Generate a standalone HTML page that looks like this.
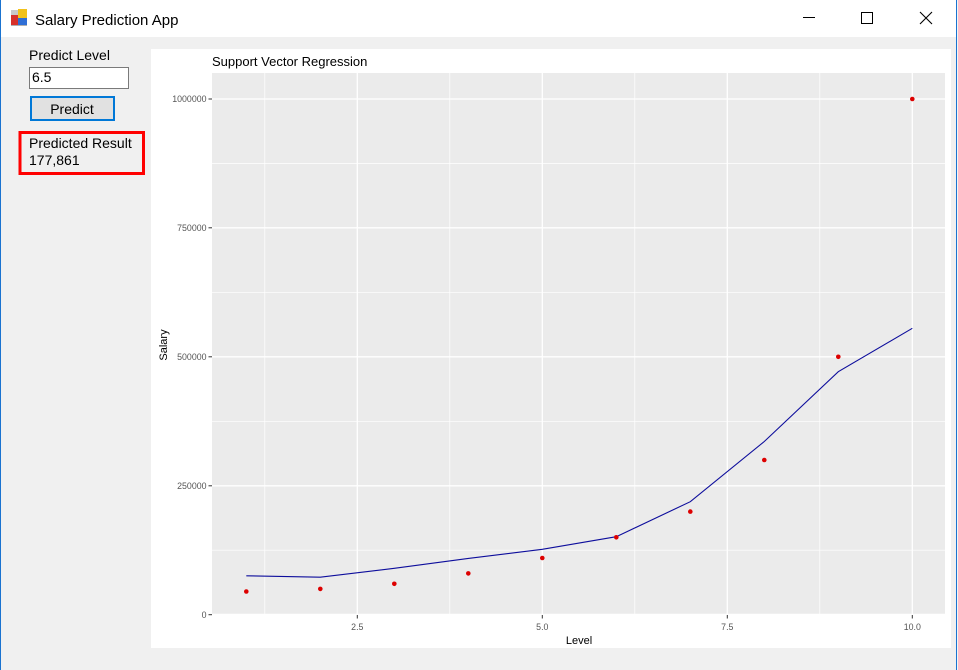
<!DOCTYPE html>
<html><head><meta charset="utf-8"><style>
html,body{margin:0;padding:0;width:958px;height:670px;overflow:hidden;background:#f0f0f0;}
svg{display:block;font-family:"Liberation Sans",sans-serif;}
</style></head><body>
<svg width="958" height="670" viewBox="0 0 958 670" xmlns="http://www.w3.org/2000/svg">
<rect x="0" y="0" width="958" height="670" fill="#f0f0f0"/>
<!-- title bar -->
<rect x="0" y="0" width="956" height="37" fill="#ffffff"/>
<rect x="0" y="0" width="1" height="670" fill="#1a73d0"/>
<rect x="956" y="0" width="1" height="670" fill="#1a73d0"/>
<rect x="957" y="0" width="1" height="670" fill="#f4f4f4"/>
<!-- icon -->
<rect x="11" y="10" width="7" height="5" fill="#c8c8c8"/>
<rect x="18" y="9" width="9" height="9" fill="#f2c21b"/>
<rect x="11" y="15" width="7" height="10" fill="#d7302a"/>
<rect x="18" y="18" width="9" height="7" fill="#2f6fd6"/>
<rect x="11" y="25" width="16" height="1" fill="#b0b0b0"/>
<text x="35" y="25" font-size="15" fill="#000">Salary Prediction App</text>
<!-- window buttons -->
<rect x="803" y="17" width="12" height="1" fill="#000"/>
<rect x="861.5" y="12.5" width="11" height="11" fill="none" stroke="#000" stroke-width="1"/>
<path d="M920 12 L932 24 M932 12 L920 24" stroke="#000" stroke-width="1.1"/>
<!-- left panel -->
<text x="29" y="60" font-size="14" fill="#000">Predict Level</text>
<rect x="29.5" y="67.5" width="99" height="21" fill="#fff" stroke="#7a7a7a"/>
<text x="32" y="82" font-size="14" fill="#000">6.5</text>
<rect x="31" y="97" width="83" height="23" fill="#e1e1e1" stroke="#0078d7" stroke-width="2"/>
<text x="72" y="114" font-size="14" fill="#000" text-anchor="middle">Predict</text>
<rect x="20" y="132.5" width="123.5" height="41" fill="none" stroke="#ff0000" stroke-width="3"/>
<text x="29" y="148" font-size="14" fill="#000">Predicted Result</text>
<text x="29" y="165" font-size="14" fill="#000">177,861</text>
<!-- chart area -->
<rect x="151" y="49" width="800" height="599" fill="#ffffff"/>
<text x="212" y="66" font-size="13" fill="#000">Support Vector Regression</text>
<rect x="212" y="73" width="733" height="542" fill="#ebebeb"/>
<!-- minor grid -->
<g stroke="#ffffff" stroke-width="0.7">
<line x1="264.8" y1="73" x2="264.8" y2="615"/>
<line x1="449.8" y1="73" x2="449.8" y2="615"/>
<line x1="634.8" y1="73" x2="634.8" y2="615"/>
<line x1="819.8" y1="73" x2="819.8" y2="615"/>
<line x1="212" y1="550.2" x2="945" y2="550.2"/>
<line x1="212" y1="421.3" x2="945" y2="421.3"/>
<line x1="212" y1="292.3" x2="945" y2="292.3"/>
<line x1="212" y1="163.4" x2="945" y2="163.4"/>
</g>
<!-- major grid -->
<g stroke="#ffffff" stroke-width="1.3">
<line x1="357.3" y1="73" x2="357.3" y2="615"/>
<line x1="542.3" y1="73" x2="542.3" y2="615"/>
<line x1="727.3" y1="73" x2="727.3" y2="615"/>
<line x1="912.3" y1="73" x2="912.3" y2="615"/>
<line x1="212" y1="614.4" x2="945" y2="614.4"/>
<line x1="212" y1="485.8" x2="945" y2="485.8"/>
<line x1="212" y1="356.8" x2="945" y2="356.8"/>
<line x1="212" y1="227.8" x2="945" y2="227.8"/>
<line x1="212" y1="99" x2="945" y2="99"/>
</g>
<!-- ticks -->
<g stroke="#333" stroke-width="1">
<line x1="208.5" y1="99" x2="212" y2="99"/>
<line x1="208.5" y1="227.8" x2="212" y2="227.8"/>
<line x1="208.5" y1="356.8" x2="212" y2="356.8"/>
<line x1="208.5" y1="485.8" x2="212" y2="485.8"/>
<line x1="208.5" y1="614.7" x2="212" y2="614.7"/>
<line x1="357.3" y1="615" x2="357.3" y2="618.5"/>
<line x1="542.3" y1="615" x2="542.3" y2="618.5"/>
<line x1="727.3" y1="615" x2="727.3" y2="618.5"/>
<line x1="912.3" y1="615" x2="912.3" y2="618.5"/>
</g>
<g font-size="8.8" fill="#555" text-anchor="end">
<text x="206.5" y="102.2">1000000</text>
<text x="206.5" y="231">750000</text>
<text x="206.5" y="360">500000</text>
<text x="206.5" y="489">250000</text>
<text x="206.5" y="618">0</text>
</g>
<g font-size="8.8" fill="#555" text-anchor="middle">
<text x="357.3" y="630">2.5</text>
<text x="542.3" y="630">5.0</text>
<text x="727.3" y="630">7.5</text>
<text x="912.3" y="630">10.0</text>
</g>
<text x="579" y="644" font-size="11" fill="#000" text-anchor="middle">Level</text>
<text x="0" y="0" font-size="11" fill="#000" text-anchor="middle" transform="translate(167,345) rotate(-90)">Salary</text>
<!-- regression line -->
<polyline fill="none" stroke="#0d0d9c" stroke-width="1.1" points="246.3,575.8 320.3,577.2 394.3,568.3 468.3,558.4 542.3,549.3 616.3,536.7 690.3,501.7 764.3,441.5 838.3,371.7 912.3,328.3"/>
<!-- points -->
<g fill="#dd0000">
<circle cx="246.3" cy="591.5" r="2.3"/>
<circle cx="320.3" cy="588.9" r="2.3"/>
<circle cx="394.3" cy="583.8" r="2.3"/>
<circle cx="468.3" cy="573.4" r="2.3"/>
<circle cx="542.3" cy="558.0" r="2.3"/>
<circle cx="616.3" cy="537.3" r="2.3"/>
<circle cx="690.3" cy="511.6" r="2.3"/>
<circle cx="764.3" cy="460.0" r="2.3"/>
<circle cx="838.3" cy="356.8" r="2.3"/>
<circle cx="912.3" cy="99.0" r="2.3"/>
</g>
</svg>
</body></html>
